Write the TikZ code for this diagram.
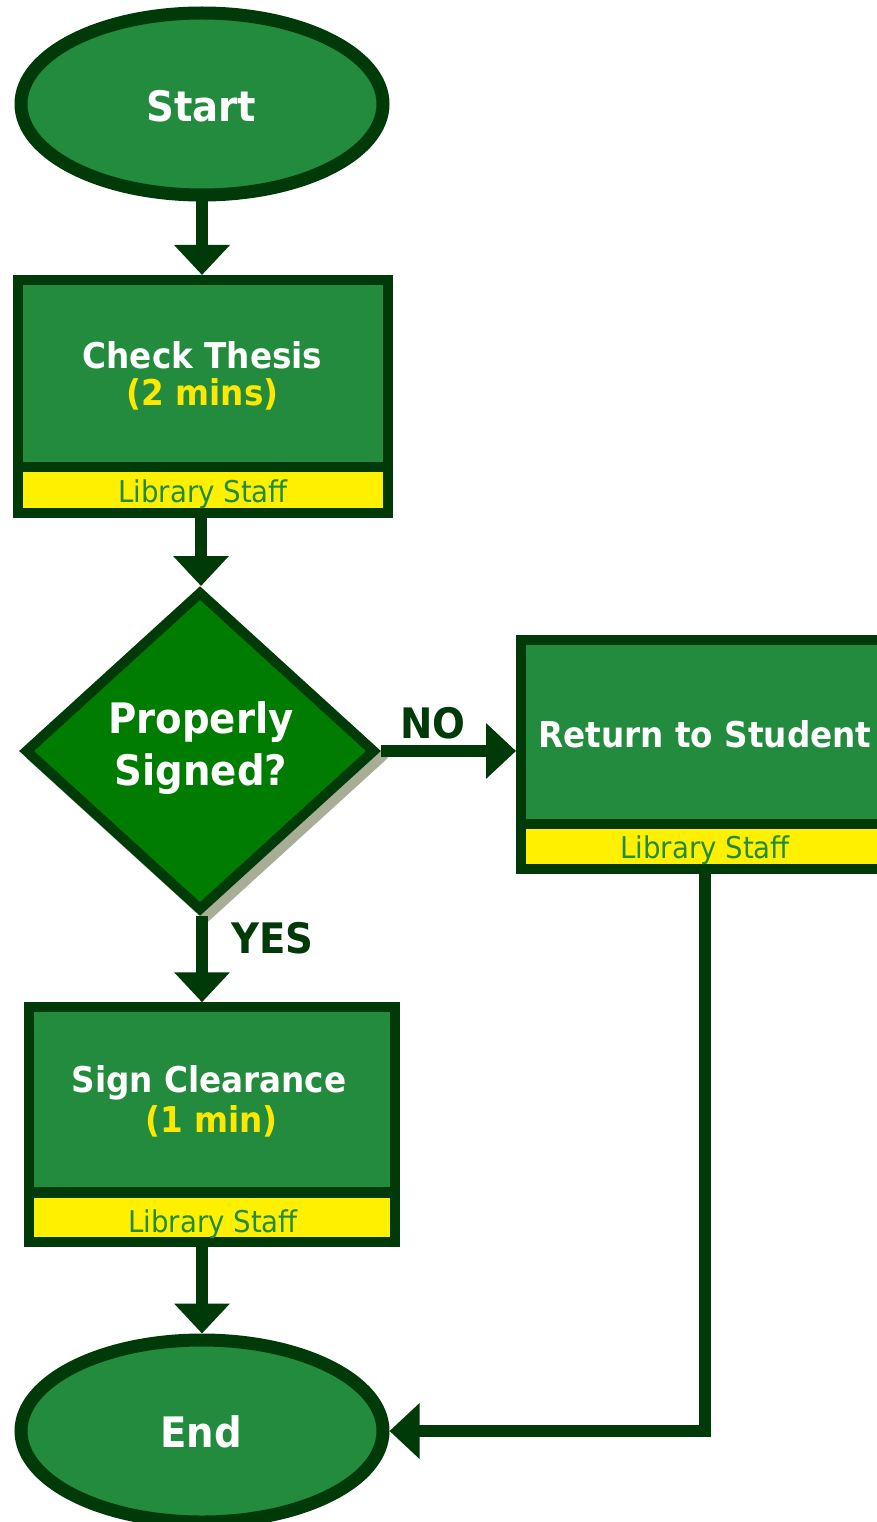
\documentclass[tikz,border=0pt]{standalone}
\usepackage{fontspec}
\usetikzlibrary{shapes.geometric,arrows.meta,calc}
\newfontfamily\flowfont[FakeStretch=0.92]{DejaVu Sans}

\definecolor{edge}{RGB}{0,58,8}
\definecolor{leaf}{RGB}{35,139,62}
\definecolor{gem}{RGB}{0,124,0}
\definecolor{band}{RGB}{255,240,0}
\definecolor{gold}{RGB}{255,232,0}
\definecolor{shade}{RGB}{168,174,150}

\begin{document}
\begin{tikzpicture}[x=1pt,y=-1pt,
  terminal/.style={ellipse, draw=edge, fill=leaf, line width=13pt, inner sep=0pt,
                   minimum width=362pt, minimum height=182pt},
  taskbox/.style={rectangle, draw=edge, fill=leaf, line width=10pt, inner sep=0pt},
  rolebox/.style={rectangle, draw=edge, fill=band, line width=10pt, inner sep=0pt},
  decision/.style={diamond, draw=edge, fill=gem, line width=10pt, inner sep=0pt,
                   minimum width=351pt, minimum height=320pt},
  flow/.style={draw=edge, line width=12.5pt, -{Triangle[width=54pt,length=30pt]}},
  bigtxt/.style={font=\flowfont\bfseries\fontsize{42}{44}\selectfont, text=white, inner sep=0pt, anchor=base},
  tasktxt/.style={font=\flowfont\bfseries\fontsize{35.5}{38}\selectfont, text=white, inner sep=0pt, anchor=base},
  timetxt/.style={font=\flowfont\bfseries\fontsize{35.5}{38}\selectfont, text=gold, inner sep=0pt, anchor=base},
  asktxt/.style={font=\flowfont\bfseries\fontsize{42}{46}\selectfont, text=white, inner sep=0pt, anchor=base},
  answer/.style={font=\flowfont\bfseries\fontsize{42}{46}\selectfont, text=edge, inner sep=0pt, anchor=base west},
  roletxt/.style={font=\flowfont\fontsize{30}{32}\selectfont, text=leaf, inner sep=0pt, anchor=base}
]
\useasboundingbox (0,0) rectangle (877,1522);
\clip (0,0) rectangle (877,1522);

% terminals
\node[terminal] (start) at (202,104) {};
\node[terminal] (finish) at (202,1431) {};

% check step
\node[taskbox, minimum width=370pt, minimum height=186.5pt] (check) at (203,373.25) {};
\node[rolebox, minimum width=370pt, minimum height=46.5pt] (checkrole) at (203,489.75) {};

% decision with its shadow
\node[decision, draw=shade, fill=shade] (decideshadow) at (207,758) {};
\node[decision] (decide) at (200,751) {};

% return step
\node[taskbox, minimum width=368pt, minimum height=184pt] (ret) at (705,732) {};
\node[rolebox, minimum width=368pt, minimum height=45pt] (retrole) at (705,846.5) {};

% sign step
\node[taskbox, minimum width=366pt, minimum height=185pt] (sign) at (212,1099.75) {};
\node[rolebox, minimum width=366pt, minimum height=49.5pt] (signrole) at (212,1217.25) {};

% texts
\node[bigtxt] (starttxt) at (201.5,122) {Start};
\node[bigtxt] (endtxt) at (201,1447) {End};
\node[tasktxt] (checktxt) at (202.5,368) {Check Thesis};
\node[timetxt] (checktime) at (202.5,405) {(2 mins)};
\node[roletxt] (checkroletxt) at (203,502) {Library Staff};
\node[asktxt] (asktop) at (201,733) {Properly};
\node[asktxt] (askbot) at (201,785) {Signed?};
\node[tasktxt] (rettxt) at (705,747) {Return to Student};
\node[roletxt] (retroletxt) at (705,858) {Library Staff};
\node[tasktxt] (signtxt) at (209,1092) {Sign Clearance};
\node[timetxt] (signtime) at (211.5,1132) {(1 min)};
\node[roletxt] (signroletxt) at (213,1232) {Library Staff};
\node[answer] (no) at (400,738) {NO};
\node[answer] (yes) at (231,953) {YES};

% connectors
\draw[flow] (start.south) -- (start.south |- check.north);
\draw[flow] ([xshift=-2pt]checkrole.south) -- ([xshift=-2pt]checkrole.south |- decide.north);
\draw[flow] (decide.east) -- (decide.east -| ret.west);
\draw[flow] ([xshift=2pt]decide.south) -- ([xshift=2pt]decide.south |- sign.north);
\draw[flow] (finish.north |- signrole.south) -- (finish.north);
\draw[flow] (retrole.south) |- (finish.east);
\end{tikzpicture}
\end{document}
